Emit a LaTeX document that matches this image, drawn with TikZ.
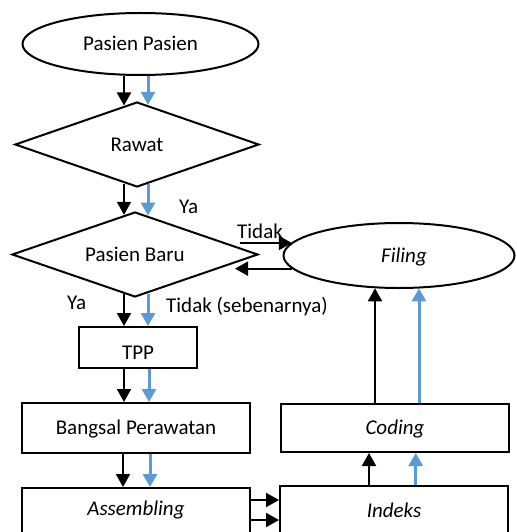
\documentclass[tikz,border=0pt]{standalone}
\usepackage{fontspec}
\setmainfont{Carlito}
\usetikzlibrary{shapes.geometric,arrows.meta}
\definecolor{flowblue}{HTML}{5B9BD5}
\begin{document}
\begin{tikzpicture}[x=1pt,y=-1pt,
  base/.style={draw=black,line width=2pt,inner sep=0pt,font=\fontsize{21}{25}\selectfont,text height=13.5pt,text depth=0pt},
  oval/.style={base,ellipse},
  dia/.style={base,diamond,aspect=2.9},
  box/.style={base,rectangle},
  blk/.style={line width=2pt,-{Triangle[width=14pt,length=13pt]}},
  blu/.style={flowblue,line width=3pt,-{Triangle[width=14pt,length=13pt]}},
  lbl/.style={inner sep=0pt,anchor=base west,font=\fontsize{21}{25}\selectfont}]
\useasboundingbox (0,0) rectangle (516,532);

\node[oval,minimum width=236pt,minimum height=62pt] (pp) at (140.5,44) {Pasien Pasien};
\node[dia,minimum width=244pt,minimum height=85pt] (rawat) at (137,144.5) {Rawat};
\node[dia,minimum width=246pt,minimum height=85pt] (pb) at (135,254.5) {Pasien Baru};
\node[oval,minimum width=231pt,minimum height=65pt] (filing) at (399,255.5) {\hspace*{10pt}\textit{Filing}};
\node[box,minimum width=118pt,minimum height=41pt,text height=23pt] (tpp) at (138,347.5) {TPP};
\node[box,minimum width=228pt,minimum height=50pt] (bangsal) at (136,428) {Bangsal Perawatan};
\node[box,minimum width=228pt,minimum height=50pt,text depth=9.5pt] (asm) at (136,513) {\textit{Assembling}};
\node[box,minimum width=228pt,minimum height=48pt] (coding) at (395,428) {\textit{Coding}};
\node[box,minimum width=228pt,minimum height=50pt,text depth=1.5pt] (idx) at (394,511) {\textit{Indeks}};

\coordinate (tstart) at (240,243);
\coordinate (rend) at (235,268);

% Pasien Pasien -> Rawat
\draw[blk] ([xshift=-16.5pt]pp.south) -- ([xshift=-13pt,yshift=-4.5pt]rawat.north);
\draw[blu] ([xshift=7.5pt]pp.south) -- ([xshift=11pt,yshift=-3.8pt]rawat.north);
% Rawat -> Pasien Baru
\draw[blk] ([xshift=-13pt,yshift=4.5pt]rawat.south) -- ([xshift=-11pt,yshift=-3.8pt]pb.north);
\draw[blu] ([xshift=11pt,yshift=3.8pt]rawat.south) -- ([xshift=13pt,yshift=-4.5pt]pb.north);
% Pasien Baru -> TPP
\draw[blk] ([xshift=-11pt,yshift=3.8pt]pb.south) -- ([xshift=-14pt]tpp.north);
\draw[blu] ([xshift=13pt,yshift=4.5pt]pb.south) -- ([xshift=10pt]tpp.north);
% TPP -> Bangsal
\draw[blk] ([xshift=-14pt]tpp.south) -- ([xshift=-12pt]bangsal.north);
\draw[blu] ([xshift=11pt]tpp.south) -- ([xshift=13pt]bangsal.north);
% Bangsal -> Assembling
\draw[blk] ([xshift=-13pt]bangsal.south) -- ([xshift=-13pt]asm.north);
\draw[blu] ([xshift=14pt]bangsal.south) -- ([xshift=14pt]asm.north);
% Assembling -> Indeks
\draw[blk] ([yshift=13pt]asm.east) -- ([yshift=13pt]asm.east -| idx.west);
\draw[blk] ([yshift=-7pt]asm.east) -- ([yshift=-7pt]asm.east -| idx.west);
% Indeks -> Coding
\draw[blk] ([xshift=-25pt]idx.north) -- ([xshift=-25pt]idx.north |- coding.south);
\draw[blu] ([xshift=21.7pt]idx.north) -- ([xshift=21.7pt]idx.north |- coding.south);
% Coding -> Filing
\draw[blk] ([xshift=-20pt]coding.north) -- ([xshift=-24pt,yshift=0.7pt]filing.south);
\draw[blu] ([xshift=24pt]coding.north) -- ([xshift=20pt,yshift=0.6pt]filing.south);
% Pasien Baru <-> Filing
\draw[blk] (tstart) -- (tstart -| filing.173);
\draw[blk] (filing.187) -- (filing.187 -| rend);

% labels
\node[lbl] (ya1) at (179,213) {Ya};
\node[lbl] (tidak1) at (237,238) {Tidak};
\node[lbl] (ya2) at (67,309) {Ya};
\node[lbl] (tidak2) at (166,312) {Tidak (sebenarnya)};
\end{tikzpicture}
\end{document}
